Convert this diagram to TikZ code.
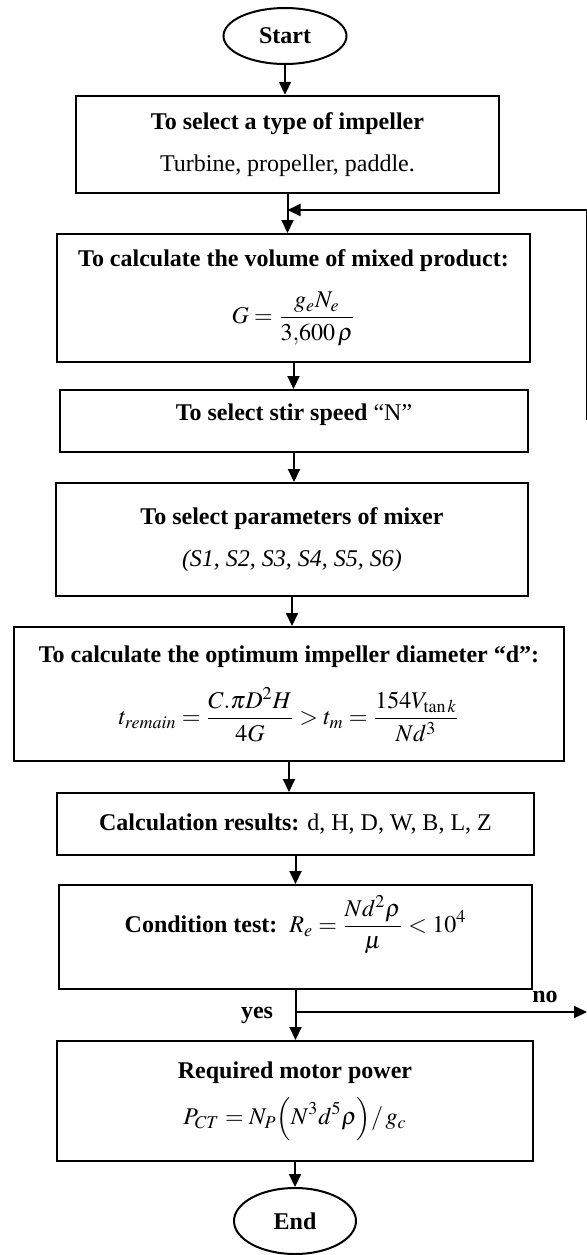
\documentclass[tikz,border=0pt]{standalone}
\usepackage{mathptmx}
\usepackage{fontspec}
\setmainfont{Liberation Serif}
\usetikzlibrary{shapes.geometric, arrows.meta, positioning}

\begin{document}
\begin{tikzpicture}[
  x=0.5pt, y=-0.5pt,
  font=\fontsize{12}{14}\selectfont,
  box/.style={draw, line width=1pt, inner sep=0pt, align=center},
  term/.style={ellipse, draw, line width=1pt, inner sep=0pt, font=\fontsize{12}{14}\selectfont\bfseries},
  flow/.style={-{Triangle[length=6.5pt, width=6pt]}, line width=1pt},
  link/.style={line width=1pt},
  tag/.style={font=\fontsize{12}{14}\selectfont\bfseries},
]
  \useasboundingbox (0,0) rectangle (587,1255);

  % --- terminals ---
  \node[term, minimum width=61.5pt, minimum height=28pt] (start) at (285,36) {Start};
  \node[term, minimum width=61pt, minimum height=33pt] (end) at (295,1221) {End};

  % --- process boxes ---
  \node[box, minimum width=211.5pt, minimum height=48.5pt] (impeller) at (287.5,144.3)
    {\textbf{To select a type of impeller}\\[7pt]Turbine, propeller, paddle.};
  \node[box, minimum width=236.5pt, minimum height=64pt] (volume) at (293.5,298)
    {\textbf{To calculate the volume of mixed product:}\\[9pt]
     $\displaystyle G=\frac{g_{e}N_{e}}{3{,}600\,\rho}$};
  \node[box, minimum width=234pt, minimum height=31pt, text height=9pt, text depth=10pt] (speed) at (294,421)
    {\textbf{To select stir speed} “N”};
  \node[box, minimum width=236pt, minimum height=56.5pt] (params) at (292,539.5)
    {\textbf{To select parameters of mixer}\\[7pt]\textit{(S1, S2, S3, S4, S5, S6)}};
  \node[box, minimum width=275pt, minimum height=67pt] (diam) at (289,694)
    {\textbf{To calculate the optimum impeller diameter “d”:}\\[9pt]
     $\displaystyle t_{remain}=\frac{C.\pi D^{2}H}{4G}>t_{m}=\frac{154V_{\tan k}}{Nd^{3}}$};
  \node[box, minimum width=238.5pt, minimum height=31pt] (results) at (295.5,824)
    {\textbf{Calculation results:} d, H, D, W, B, L, Z};
  \node[box, minimum width=236.5pt, minimum height=52pt, text height=16pt, text depth=20.5pt] (test) at (295.5,937)
    {\textbf{Condition test:}\ \ $\displaystyle R_{e}=\frac{Nd^{2}\rho}{\mu}<10^{4}$};
  \node[box, minimum width=238pt, minimum height=60pt] (power) at (295,1101)
    {\textbf{Required motor power}\\[6pt]
     $\displaystyle P_{CT}=N_{P}\Bigl(N^{3}d^{5}\rho\Bigr)/\,g_{c}$};

  % --- main flow ---
  \draw[flow] (start.south) -- (start.south |- impeller.north);
  \draw[flow] (impeller.south) -- (impeller.south |- volume.north);
  \draw[flow] (volume.south) -- (volume.south |- speed.north);
  \draw[flow] (speed.south) -- (speed.south |- params.north);
  \draw[flow] (params.south) -- (params.south |- diam.north);
  \draw[flow] (diam.south) -- (diam.south |- results.north);
  \draw[flow] (results.south) -- (results.south |- test.north);
  \draw[flow] (test.south) -- (test.south |- power.north);
  \draw[flow] (power.south) -- (power.south |- end.north);

  % --- feedback loop (cut at the right edge) ---
  \coordinate (loopTop) at (587,210);
  \coordinate (loopLow) at (587,420);
  \draw[link] (loopLow) -- (loopTop);
  \draw[flow] (loopTop) -- (loopTop -| impeller.south);

  % --- yes / no branch ---
  \coordinate (fork) at (test.south |- 0,1012);
  \coordinate (noEnd) at (587,1012);
  \draw[flow] (fork) -- (noEnd);
  \node[tag] (yes) at (257,1015) {yes};
  \node[tag] (no) at (545,997) {no};
\end{tikzpicture}
\end{document}
